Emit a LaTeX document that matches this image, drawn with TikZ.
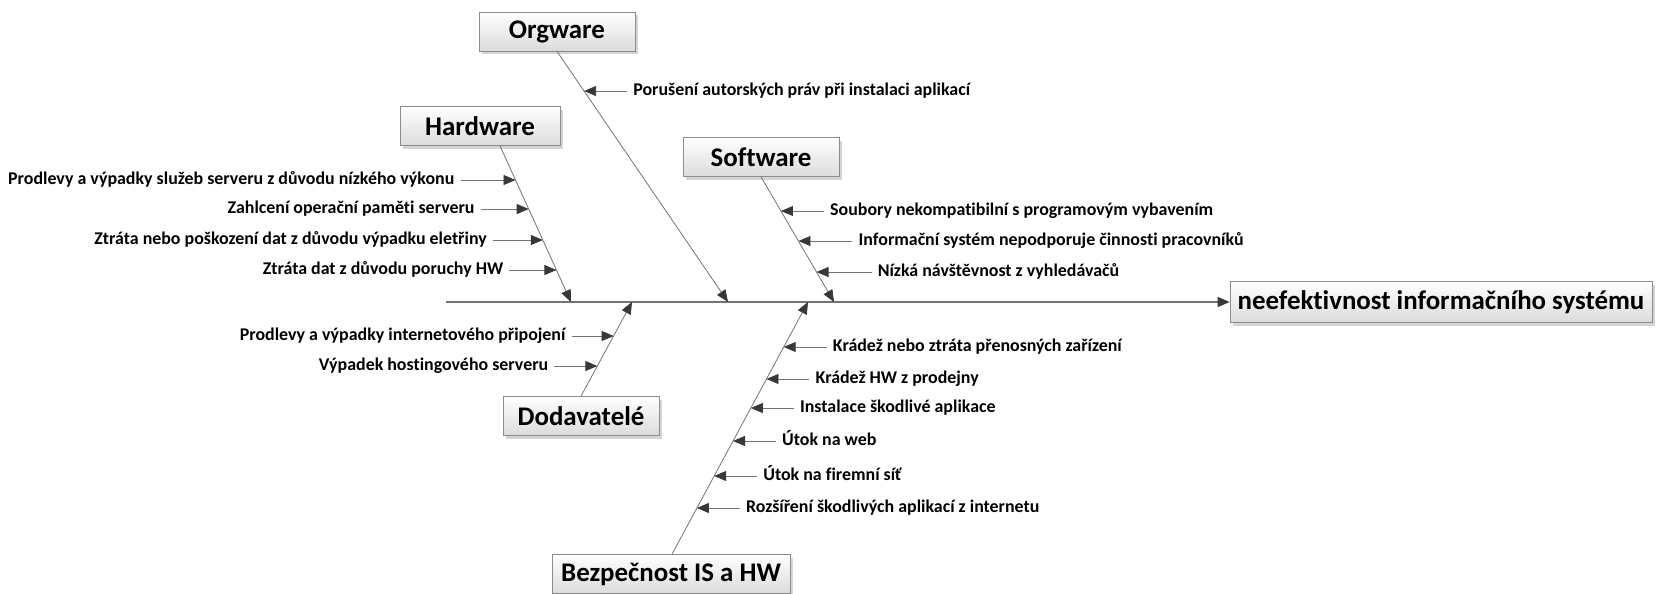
\documentclass[tikz,border=0pt]{standalone}
\usepackage{fontspec}
\setmainfont{Carlito}[Ligatures={NoCommon}]
\usetikzlibrary{arrows.meta,shadows}
\begin{document}
\begin{tikzpicture}[x=1pt,y=-1pt,
  catbox/.style={draw=black!45, line width=0.7pt, top color=white, bottom color=black!14,
    drop shadow={shadow xshift=3pt,shadow yshift=-3pt,fill=black!30,opacity=0.55},
    font=\fontsize{26.9}{32}\selectfont\bfseries, inner sep=0pt, minimum height=39pt},
  cause/.style={font=\fontsize{17.9}{21}\selectfont\bfseries, inner sep=0pt,
    text height=12pt, text depth=4pt},
  tip/.style={-{Triangle[length=12pt,width=10pt,color=black!78]}},
  spine/.style={draw=black!55, line width=1.1pt, tip},
  bone/.style={draw=black!55, line width=0.8pt, tip},
  twig/.style={draw=black!55, line width=0.8pt, tip},
]
\useasboundingbox (0,0) rectangle (1657,594);

% effect and main spine
\node[catbox, minimum width=422pt, minimum height=41pt] (eff) at (1441,302) {neefektivnost informačního systému};
\coordinate (tail) at (446,302);
\draw[spine] (tail) -- (eff.west);

% category boxes
\node[catbox, minimum width=156pt] (org) at (557,31.5) {Orgware};
\node[catbox, minimum width=160pt] (hw)  at (480,126)  {Hardware};
\node[catbox, minimum width=156pt] (sw)  at (761,157)  {Software};
\node[catbox, minimum width=156pt] (dod) at (581,416)  {Dodavatelé};
\node[catbox, minimum width=238pt] (bez) at (671,574)  {Bezpečnost IS a HW};

% bones: start on the box edge, end on the spine
\coordinate (orgS) at (org.south);
\coordinate (orgE) at (728,302);
\coordinate (hwS)  at ([xshift=20pt]hw.south);
\coordinate (hwE)  at (571,302);
\coordinate (swS)  at (sw.south);
\coordinate (swE)  at (834,302);
\coordinate (dodS) at (dod.north);
\coordinate (dodE) at (632,302);
\coordinate (bezS) at ([xshift=1pt]bez.north);
\coordinate (bezE) at (808,302);

\draw[bone] (orgS) -- (orgE);
\draw[bone] (hwS)  -- (hwE);
\draw[bone] (swS)  -- (swE);
\draw[bone] (dodS) -- (dodE);
\draw[bone] (bezS) -- (bezE);

% points where the minor causes meet their bone
\coordinate (o1) at (intersection of orgS--orgE and 0,91--1,91);
\coordinate (h1) at (intersection of hwS--hwE and 0,180--1,180);
\coordinate (h2) at (intersection of hwS--hwE and 0,209--1,209);
\coordinate (h3) at (intersection of hwS--hwE and 0,240--1,240);
\coordinate (h4) at (intersection of hwS--hwE and 0,270--1,270);
\coordinate (s1) at (intersection of swS--swE and 0,211--1,211);
\coordinate (s2) at (intersection of swS--swE and 0,241--1,241);
\coordinate (s3) at (intersection of swS--swE and 0,272--1,272);
\coordinate (d1) at (intersection of dodS--dodE and 0,336--1,336);
\coordinate (d2) at (intersection of dodS--dodE and 0,366--1,366);
\coordinate (b1) at (intersection of bezS--bezE and 0,347--1,347);
\coordinate (b2) at (intersection of bezS--bezE and 0,379--1,379);
\coordinate (b3) at (intersection of bezS--bezE and 0,408--1,408);
\coordinate (b4) at (intersection of bezS--bezE and 0,441--1,441);
\coordinate (b5) at (intersection of bezS--bezE and 0,476--1,476);
\coordinate (b6) at (intersection of bezS--bezE and 0,508--1,508);

% causes to the right of their bone (arrow points left); \g = text offset
\foreach \p/\g/\t in {o1/49/Porušení autorských práv při instalaci aplikací,
                   s1/49/Soubory nekompatibilní s programovým vybavením,
                   s2/60/Informační systém nepodporuje činnosti pracovníků,
                   s3/61/Nízká návštěvnost z vyhledávačů,
                   b1/49/Krádež nebo ztráta přenosných zařízení,
                   b2/49/Krádež HW z prodejny,
                   b3/49/Instalace škodlivé aplikace,
                   b4/49/Útok na web,
                   b5/49/Útok na firemní síť,
                   b6/49/Rozšíření škodlivých aplikací z internetu}{
  \node[cause, anchor=west] (t\p) at ([xshift=\g pt]\p) {\t};
  \draw[twig] ([xshift=-6pt]t\p.west) -- (\p);
}

% causes to the left of their bone (arrow points right)
\foreach \p/\g/\t in {h1/61/Prodlevy a výpadky služeb serveru z důvodu nízkého výkonu,
                   h2/54/Zahlcení operační paměti serveru,
                   h3/56/Ztráta nebo poškození dat z důvodu výpadku eletřiny,
                   h4/53/Ztráta dat z důvodu poruchy HW,
                   d1/48/Prodlevy a výpadky internetového připojení,
                   d2/49/Výpadek hostingového serveru}{
  \node[cause, anchor=east] (t\p) at ([xshift=-\g pt]\p) {\t};
  \draw[twig] ([xshift=6pt]t\p.east) -- (\p);
}
\end{tikzpicture}
\end{document}
